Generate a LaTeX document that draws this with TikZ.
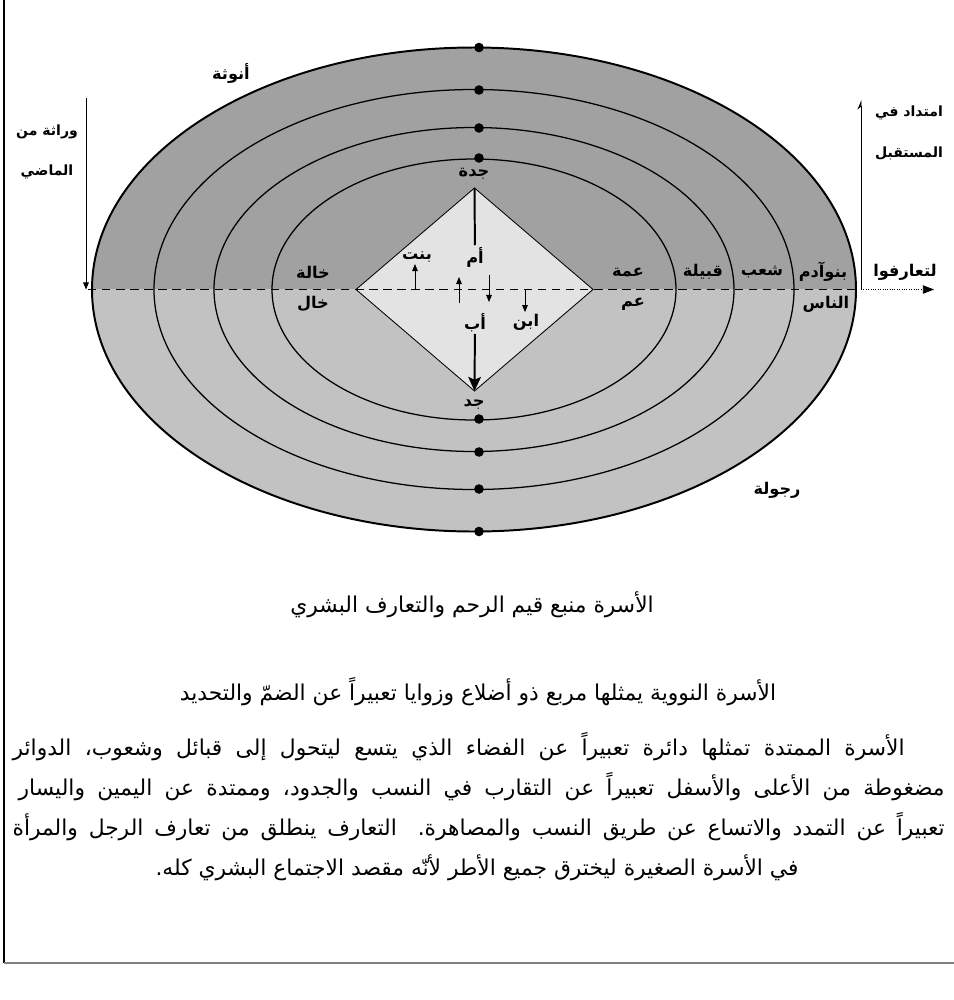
\documentclass[tikz,border=0pt]{standalone}
\usepackage{fontspec}
\usetikzlibrary{arrows.meta}
\newfontfamily\arabicfont[Script=Arabic]{DejaVu Sans}
\TeXXeTstate=1
\newcommand{\rtl}[1]{\beginR#1\endR}
\definecolor{upperband}{gray}{0.63}
\definecolor{lowerband}{gray}{0.76}
\definecolor{nucleus}{gray}{0.89}

\tikzset{
  lbl/.style={inner sep=1pt,font=\arabicfont\bfseries\fontsize{11.5}{13}\selectfont},
  sidelbl/.style={inner sep=1pt,font=\arabicfont\bfseries\fontsize{10}{12}\selectfont},
  para/.style={inner sep=0pt,font=\arabicfont\fontsize{15.5}{18}\selectfont},
  ring/.style={line width=.9pt},
  thinarrow/.style={line width=.6pt,-{Triangle[length=5pt,width=4pt]}},
  stemarrow/.style={line width=1.4pt,-{Stealth[length=10pt,width=9pt,inset=2pt]}}
}

\begin{document}
\begin{tikzpicture}[x=0.25mm,y=-0.25mm,line width=.5pt]
\path[use as bounding box] (0,0) rectangle (954,1000);
% frame
\draw[line width=1.3pt] (4,0) -- (4,963);
\draw[line width=1.2pt,gray] (4,963) -- (954,963);
% two halves of the rings
\begin{scope}
\clip (0,0) rectangle (954,289.5);
\fill[upperband] (474,289.5) ellipse [x radius=382,y radius=242];
\end{scope}
\begin{scope}
\clip (0,289.5) rectangle (954,1000);
\fill[lowerband] (474,289.5) ellipse [x radius=382,y radius=242];
\end{scope}
\draw[ring,line width=1.4pt] (474,289.5) ellipse [x radius=382,y radius=242];
\draw[ring] (474,289.5) ellipse [x radius=320,y radius=200];
\draw[ring] (474,289.5) ellipse [x radius=260,y radius=162];
\draw[ring] (474,289.5) ellipse [x radius=202,y radius=130.5];
\foreach \y in {47.5,90,128,158,419,452,489,531.5}
  \fill (479,\y) circle [radius=4.8];
% nuclear family
\coordinate (apexN) at (474.5,188);
\coordinate (apexE) at (593,289.5);
\coordinate (apexS) at (474.5,391);
\coordinate (apexW) at (356,289.5);
\filldraw[fill=nucleus,line width=.6pt] (apexN) -- (apexE) -- (apexS) -- (apexW) -- cycle;
% axis
\coordinate (axisStart) at (88,289.5);
\coordinate (pastTop) at (86,98);
\coordinate (pastEnd) at (86,289.5);
\coordinate (futureFoot) at (861,289.5);
\coordinate (futureTop) at (861,100);
\coordinate (axisTip) at (934,289.5);
\draw[line width=.7pt,dash pattern=on 6pt off 4pt] (axisStart) -- (futureFoot);
\draw[line width=.7pt,densely dotted,-{Triangle[length=8pt,width=6pt]}] (futureFoot) -- (axisTip);
\draw[thinarrow] (pastTop) -- (pastEnd);
\draw[line width=.6pt,-{Stealth[harpoon,length=6pt,width=5pt]}] (futureFoot) -- (futureTop);

\node[lbl] (jadda) at (474,174) {\rtl{جدة}};
\node[lbl] (jadd) at (474,405) {\rtl{جد}};
\node[lbl] (umm) at (475,257) {\rtl{أم}};
\node[lbl] (abb) at (475,323) {\rtl{أب}};
\node[lbl] (bint) at (417,257) {\rtl{بنت}};
\node[lbl] (ibn) at (526,322) {\rtl{ابن}};
\draw[line width=1.4pt] (apexN) -- (umm);
\draw[stemarrow] (abb) -- (apexS);
\coordinate (bintFoot) at (415,289.5);
\coordinate (ibnFoot) at (525,289.5);
\coordinate (upFoot) at (459,303);
\coordinate (upHead) at (459,277);
\coordinate (downTop) at (489,275);
\coordinate (downHead) at (489,302);
\draw[thinarrow] (bintFoot) -- (bint.south -| bintFoot);
\draw[thinarrow] (upFoot) -- (upHead);
\draw[thinarrow] (downTop) -- (downHead);
\draw[thinarrow] (ibnFoot) -- (ibn.north -| ibnFoot);

\node[lbl] (khala) at (313,272) {\rtl{خالة}};
\node[lbl] (khal) at (313,304) {\rtl{خال}};
\node[lbl] (amma) at (628,272) {\rtl{عمة}};
\node[lbl] (amm) at (633,304) {\rtl{عم}};
\node[lbl] (qabila) at (703,272) {\rtl{قبيلة}};
\node[lbl] (shaab) at (762,272) {\rtl{شعب}};
\node[lbl] (banuadam) at (823,272) {\rtl{بنوآدم}};
\node[lbl] (nas) at (826,304) {\rtl{الناس}};
\node[lbl] (taarafu) at (905,272) {\rtl{لتعارفوا}};
\node[lbl] (unutha) at (231,73) {\rtl{أنوثة}};
\node[lbl] (rujula) at (777,490) {\rtl{رجولة}};
\node[sidelbl] (pastA) at (47,132) {\rtl{وراثة من}};
\node[sidelbl] (pastB) at (47,172) {\rtl{الماضي}};
\node[sidelbl] (futureA) at (909,113) {\rtl{امتداد في}};
\node[sidelbl] (futureB) at (909,153) {\rtl{المستقبل}};

% caption and notes
\node[para] (caption) at (472,605) {\rtl{الأسرة منبع قيم الرحم والتعارف البشري}};
\node[para] (nuclear) at (478,692) {\rtl{الأسرة النووية يمثلها مربع ذو أضلاع وزوايا تعبيراً عن الضمّ والتحديد}};
\node[para,anchor=east] (ext1) at (905,747)
  {\makebox[223mm][s]{\rtl{الأسرة الممتدة تمثلها دائرة تعبيراً عن الفضاء الذي يتسع ليتحول إلى قبائل وشعوب، الدوائر}}};
\node[para,anchor=east] (ext2) at (945,787)
  {\makebox[231.5mm][s]{\rtl{مضغوطة من الأعلى والأسفل تعبيراً عن التقارب في النسب والجدود، وممتدة عن اليمين واليسار}}};
\node[para,anchor=east] (ext3) at (945,827)
  {\makebox[233mm][s]{\rtl{تعبيراً عن التمدد والاتساع عن طريق النسب والمصاهرة. التعارف ينطلق من تعارف الرجل والمرأة}}};
\node[para] (ext4) at (477,868) {\rtl{في الأسرة الصغيرة ليخترق جميع الأطر لأنّه مقصد الاجتماع البشري كله.}};
\end{tikzpicture}
\end{document}
